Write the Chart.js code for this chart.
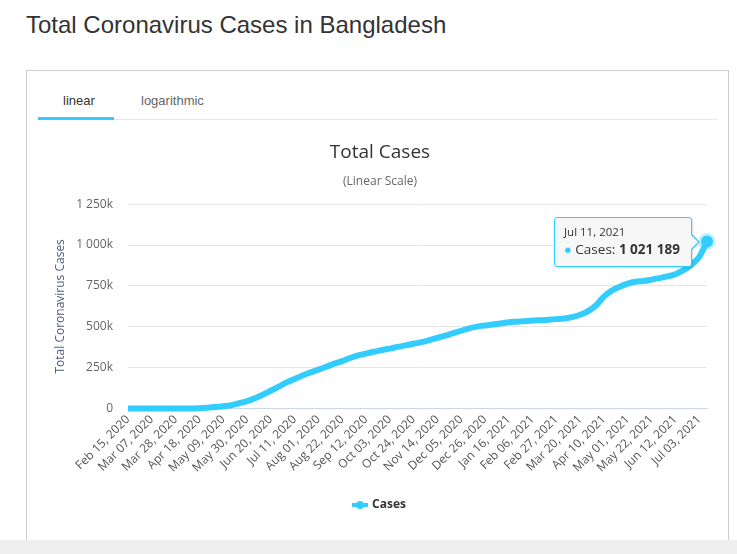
<!DOCTYPE html>
<html>
<head>
<meta charset="utf-8">
<script src="https://cdn.jsdelivr.net/npm/chart.js@4.4.0/dist/chart.umd.min.js"></script>
<style>
body{margin:0;background:#fff;width:737px;height:554px;overflow:hidden;position:relative;font-family:"Liberation Sans",Arial,sans-serif}
h1{position:absolute;left:26px;top:11px;margin:0;font-weight:normal;font-size:24px;color:#333}
.card{position:absolute;left:26px;top:70px;width:701px;height:500px;border:1px solid #ccc;background:#fff}
.tabs{position:absolute;left:11px;top:0;width:680px;height:48px;border-bottom:1px solid #e8e8e8}
.tab{position:absolute;top:22px;font-size:13px;color:#666}
.tab.on{color:#333}
.bar{position:absolute;left:0;top:46px;width:76px;height:3px;background:#33ccff}
#wrap{position:absolute;left:37px;top:128px;width:681px;height:400px}
.footer{position:absolute;left:0;top:540px;width:737px;height:14px;background:#eee}
#tip{position:absolute;display:none;background:#f7f7f7;border:1px solid #33ccff;border-radius:3px;padding:6px 11px 7px 9px;font-family:"Open Sans",sans-serif;color:#333;white-space:nowrap;box-shadow:1px 1px 2px rgba(0,0,0,0.15)}
#tip .t{font-size:11.5px;line-height:16px}
#tip .b{font-size:13.5px;line-height:19px}
#tip .b b{font-weight:bold}
#tip .dot{color:#33ccff;font-size:13px}
#tip:before,#tip:after{content:"";position:absolute;top:50%;border-style:solid}
#tip:before{right:-9px;margin-top:-8px;border-width:8px 0 8px 8px;border-color:transparent transparent transparent #33ccff}
#tip:after{right:-7px;margin-top:-7px;border-width:7px 0 7px 7px;border-color:transparent transparent transparent #f7f7f7}
</style>
</head>
<body>
<h1>Total Coronavirus Cases in Bangladesh</h1>
<div class="card">
  <div class="tabs">
    <span class="tab on" style="left:25px">linear</span>
    <span class="tab" style="left:103px">logarithmic</span>
    <div class="bar"></div>
  </div>
</div>
<div id="wrap"><canvas id="cases_Chart"></canvas><div id="tip"></div></div>
<div class="footer"></div>
<script>
// weekly dates
const dates2020 = ['Feb 15','Feb 22','Feb 29','Mar 07','Mar 14','Mar 21','Mar 28','Apr 04','Apr 11','Apr 18',
  'Apr 25','May 02','May 09','May 16','May 23','May 30','Jun 06','Jun 13','Jun 20','Jun 27','Jul 04','Jul 11',
  'Jul 18','Jul 25','Aug 01','Aug 08','Aug 15','Aug 22','Aug 29','Sep 05','Sep 12','Sep 19','Sep 26','Oct 03',
  'Oct 10','Oct 17','Oct 24','Oct 31','Nov 07','Nov 14','Nov 21','Nov 28','Dec 05','Dec 12','Dec 19','Dec 26'];
const dates2021 = ['Jan 02','Jan 09','Jan 16','Jan 23','Jan 30','Feb 06','Feb 13','Feb 20','Feb 27','Mar 06',
  'Mar 13','Mar 20','Mar 27','Apr 03','Apr 10','Apr 17','Apr 24','May 01','May 08','May 15','May 22','May 29',
  'Jun 05','Jun 12','Jun 19','Jun 26','Jul 03','Jul 11'];

const cases2020 = [0,0,0,0,3,24,48,70,482,2144,
  4998,8790,13770,20065,32078,44608,63026,84379,108775,133978,159679,181129,
  202066,221178,237661,255113,274525,290360,308925,325157,336044,347372,357873,366383,
  377073,386086,396413,405980,418764,432333,445281,460619,475789,490533,500713,508099];
const cases2021 = [514500,520690,527632,531326,534472,537870,540266,543024,546801,551175,
  559168,573687,595714,630277,684756,720930,744834,763682,775027,780159,788375,797386,
  808134,821486,844970,878804,926000,1021189];

const yTicks = [0, 250000, 500000, 750000, 1000000, 1250000];

const labels = dates2020.map(d => d + ', 2020').concat(dates2021.map(d => d + ', 2021'));
const data = cases2020.concat(cases2021);

function spaced(n) {
    return String(n).replace(/\B(?=(\d{3})+(?!\d))/g, ' ');
}

const ctx = document.getElementById('cases_Chart');
const tip = document.getElementById('tip');

// legend symbol: line with a dot
const sym = document.createElement('canvas');
sym.width = 16; sym.height = 10;
const sc = sym.getContext('2d');
sc.fillStyle = '#33ccff';
sc.fillRect(0, 3, 16, 4);
sc.beginPath(); sc.arc(8, 5, 4, 0, Math.PI * 2); sc.fill();

function externalTip(context) {
    const t = context.tooltip;
    if (t.opacity === 0) { tip.style.display = 'none'; return; }
    const p = t.dataPoints[0];
    tip.innerHTML = '<div class="t">' + p.label + '</div>' +
        '<div class="b"><span class="dot">\u25CF</span> Cases: <b>' + spaced(p.raw) + '</b></div>';
    tip.style.display = 'block';
    tip.style.left = (t.caretX - tip.offsetWidth - 15) + 'px';
    tip.style.top = (t.caretY - tip.offsetHeight / 2) + 'px';
}

const chart = new Chart(ctx, {
    type: 'line',
    data: {
        labels: labels,
        datasets: [{
            label: 'Cases',
            data: data,
            borderColor: '#33ccff',
            backgroundColor: '#33ccff',
            borderWidth: 6,
            tension: 0.35,
            cubicInterpolationMode: 'monotone',
            pointRadius: 0,
            pointHoverRadius: 6,
            pointHoverBorderWidth: 5,
            pointHoverBackgroundColor: '#33ccff',
            pointHoverBorderColor: 'rgba(51,204,255,0.3)',
            clip: false
        }]
    },
    options: {
        responsive: true,
        maintainAspectRatio: false,
        animation: false,
        events: [],
        layout: { padding: { left: 16, right: 11, top: 13, bottom: 7 } },
        scales: {
            x: {
                afterFit: function (axis) { axis.paddingLeft = 0; },
                grid: { display: false, drawTicks: false },
                border: { color: '#ccd6eb' },
                ticks: {
                    autoSkip: false,
                    maxRotation: 45,
                    minRotation: 45,
                    padding: 4,
                    color: '#555',
                    font: { family: 'Open Sans', size: 12 },
                    callback: function (v, i) { return i % 3 === 0 ? labels[i] : null; }
                }
            },
            y: {
                min: 0,
                max: 1250000,
                afterBuildTicks: function (axis) { axis.ticks = yTicks.map(v => ({ value: v })); },
                afterFit: function (axis) { axis.width = 75; },
                grid: { color: '#e6e6e6', drawTicks: false },
                border: { display: false },
                ticks: {
                    padding: 15,
                    color: '#666',
                    font: { family: 'Open Sans', size: 12 },
                    callback: function (v) { return v === 0 ? '0' : spaced(v / 1000) + 'k'; }
                },
                title: {
                    display: true,
                    text: 'Total Coronavirus Cases',
                    color: '#4d5d80',
                    font: { family: 'Open Sans', size: 12 },
                    padding: { top: 0, bottom: 0 }
                }
            }
        },
        plugins: {
            title: {
                display: true,
                text: 'Total Cases',
                color: '#333',
                font: { family: 'Open Sans', size: 19, weight: 'normal' },
                padding: { top: 0, bottom: 11 }
            },
            subtitle: {
                display: true,
                text: '(Linear Scale)',
                color: '#666',
                font: { family: 'Open Sans', size: 12 },
                padding: { top: 0, bottom: 15 }
            },
            legend: {
                position: 'bottom',
                labels: {
                    usePointStyle: true,
                    pointStyle: sym,
                    color: '#333',
                    padding: 20,
                    font: { family: 'Open Sans', size: 12, weight: 'bold' }
                }
            },
            tooltip: {
                enabled: false,
                external: externalTip
            }
        }
    }
});

const last = data.length - 1;
chart.setActiveElements([{ datasetIndex: 0, index: last }]);
chart.tooltip.setActiveElements([{ datasetIndex: 0, index: last }], { x: 0, y: 0 });
chart.update('none');
</script>
</body>
</html>
